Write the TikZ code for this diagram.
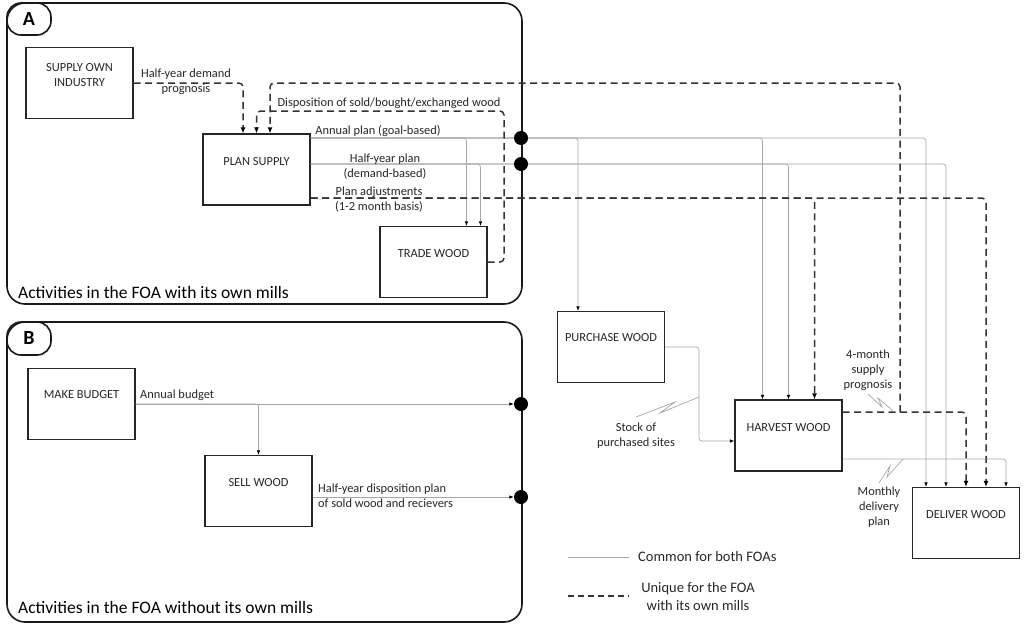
\documentclass[tikz,border=0pt]{standalone}
\usepackage{fontspec}
\setmainfont{Carlito}
\usetikzlibrary{arrows.meta}

\tikzset{
  box/.style={draw=black!85, line width=1.2pt, minimum width=107pt, minimum height=71pt, inner sep=0pt},
  boxtxt/.style={font=\fontsize{12.4}{15}\selectfont, text=black!85, align=center, inner sep=0pt},
  lbl/.style={font=\fontsize{12.4}{15}\selectfont, text=black!85, align=center, inner sep=0pt},
  legtxt/.style={font=\fontsize{14.5}{18}\selectfont, text=black!85, align=center, inner sep=0pt},
  flow/.style={draw=black!35, line width=0.7pt, rounded corners=3pt, -{Latex[length=4.5pt,width=3.5pt,color=black]}},
  unique/.style={draw=black!80, line width=1.5pt, dash pattern=on 7pt off 4.5pt, rounded corners=4pt, -{Latex[length=6pt,width=5pt,color=black]}},
  panel/.style={draw=black!90, line width=1.6pt, rounded corners=18pt},
  badge/.style={font=\fontsize{20}{20}\selectfont\bfseries, inner sep=0pt},
  title/.style={font=\fontsize{17.5}{17.5}\selectfont, anchor=west, inner sep=0pt},
  dot/.style={circle, fill=black, minimum size=14pt, inner sep=0pt},
  zig/.style={draw=black!35, line width=0.7pt},
}

\begin{document}
\begin{tikzpicture}[x=1pt, y=-1pt]
		%%%%% START %%%%%
		\useasboundingbox (0,0) rectangle (1024,627);
		
		% panel A and panel B
		\draw[panel] (7,3) rectangle (522,304);
		\draw[panel, rounded corners=14pt] (7,3) rectangle (51,35);
		\node[badge] (pa) at (29,19) {A};
		\node[title] (ta) at (18,292) {Activities in the FOA with its own mills};
		
		\draw[panel] (7,322) rectangle (522,622);
		\draw[panel, rounded corners=14pt] (7,322) rectangle (51,355);
		\node[badge] (pb) at (29,338) {B};
		\node[title] (tb) at (18,607) {Activities in the FOA without its own mills};
		
		% activities
		\node[box] (soi) at (79.5,83) {};
		\node[boxtxt] (soit) at ([yshift=-28.5pt]soi.north) {SUPPLY OWN\\INDUSTRY};
		\node[box] (ps) at (256.5,169.5) {};
		\node[boxtxt] (pst) at ([yshift=-28pt]ps.north) {PLAN SUPPLY};
		\node[box] (tw) at (433.5,262) {};
		\node[boxtxt] (twt) at ([yshift=-28pt]tw.north) {TRADE WOOD};
		\node[box] (pw) at (611,347) {};
		\node[boxtxt] (pwt) at ([yshift=-27pt]pw.north) {PURCHASE WOOD};
		\node[box] (hw) at (788.5,435.5) {};
		\node[boxtxt] (hwt) at ([yshift=-28pt]hw.north) {HARVEST WOOD};
		\node[box] (dw) at (966,523) {};
		\node[boxtxt] (dwt) at ([yshift=-28pt]dw.north) {DELIVER WOOD};
		\node[box] (mb) at (81.5,404) {};
		\node[boxtxt] (mbt) at ([yshift=-27pt]mb.north) {MAKE BUDGET};
		\node[box] (sw) at (258.5,491) {};
		\node[boxtxt] (swt) at ([yshift=-27.5pt]sw.north) {SELL WOOD};
		
		% arrow ends on the tops of the boxes
		\coordinate (tw1) at ([xshift=33pt]tw.north);
		\coordinate (tw2) at ([xshift=47pt]tw.north);
		\coordinate (pw1) at ([xshift=-33pt]pw.north);
		\coordinate (hw1) at ([xshift=-26pt]hw.north);
		\coordinate (hw3) at ([xshift=26pt]hw.north);
		\coordinate (dw1) at ([xshift=-40pt]dw.north);
		\coordinate (dw2) at ([xshift=-20pt]dw.north);
		\coordinate (dw4) at ([xshift=20pt]dw.north);
		\coordinate (dw5) at ([xshift=40pt]dw.north);
		\coordinate (split) at (900,412);
		
		% solid flows
		\foreach \t in {tw1,pw1,hw1,dw1}
			\draw[flow] ([yshift=31.5pt]ps.east) -| (\t);
		\foreach \t in {tw2,hw.north,dw2}
			\draw[flow] ([yshift=5.5pt]ps.east) -| (\t);
		\draw[flow] (pw.east) -- (699,347) |- ([yshift=-5.5pt]hw.west);
		\draw[flow] ([yshift=-23.5pt]hw.east) -| (dw5);
		
		% dashed flows
		\draw[unique] (soi.east) -| ([xshift=-13.5pt]ps.north);
		\draw[unique] (tw.east) -| (504,111) -| (ps.north);
		\draw[unique] (split) |- (270,83) -- ([xshift=13.5pt]ps.north);
		\draw[unique] ([yshift=23.5pt]hw.east) -| (dw.north);
		\foreach \t in {hw3,dw4}
			\draw[unique] ([yshift=-28.5pt]ps.east) -| (\t);
		
		\node[dot] (da1) at (521,138) {};
		\node[dot] (da2) at (521,164) {};
		
		% panel B flows
		\node[dot] (db1) at (521,404) {};
		\node[dot] (db2) at (521,497) {};
		\draw[flow] (mb.east) -- (db1.west);
		\draw[flow] (mb.east) -| (sw.north);
		\draw[flow] ([yshift=-6pt]sw.east) -- (db2.west);
		
		% labels
		\node[lbl] (l1) at (186,81.5) {Half-year demand\\prognosis};
		\node[lbl] (l2) at (389,103) {Disposition of sold/bought/exchanged wood};
		\node[lbl] (l3) at (378,131) {Annual plan (goal-based)};
		\node[lbl] (l4) at (385,166.5) {Half-year plan\\(demand-based)};
		\node[lbl] (l5) at (379,199.5) {Plan adjustments\\(1-2 month basis)};
		\node[lbl] (l6) at (868,370) {4-month\\supply\\prognosis};
		\node[lbl] (l7) at (636,435.5) {Stock of\\purchased sites};
		\node[lbl] (l8) at (879,507) {Monthly\\delivery\\plan};
		\node[lbl, anchor=west] (l9) at (140,395) {Annual budget};
		\node[lbl, anchor=west, align=left] (l10) at (318,495.5) {Half-year disposition plan\\of sold wood and recievers};
		
		\draw[zig] (636,417) -- (675,402) -- (660,413) -- (699,397);
		\draw[zig] (868,394) -- (882,407) -- (878,398) -- (893,411);
		\draw[zig] (879,483) -- (890,466) -- (887,477) -- (903,459);
		
		% legend
		\draw[flow, -] (568,557) -- (629,557);
		\node[legtxt, anchor=west] (lg1) at (638,557) {Common for both FOAs};
		\draw[unique, -, line width=1.2pt, dash pattern=on 6pt off 4pt] (568,596) -- (629,596);
		\node[legtxt] (lg2) at (698,597) {Unique for the FOA\\with its own mills};
		
		%%%%% END %%%%%
\end{tikzpicture}
\end{document}
